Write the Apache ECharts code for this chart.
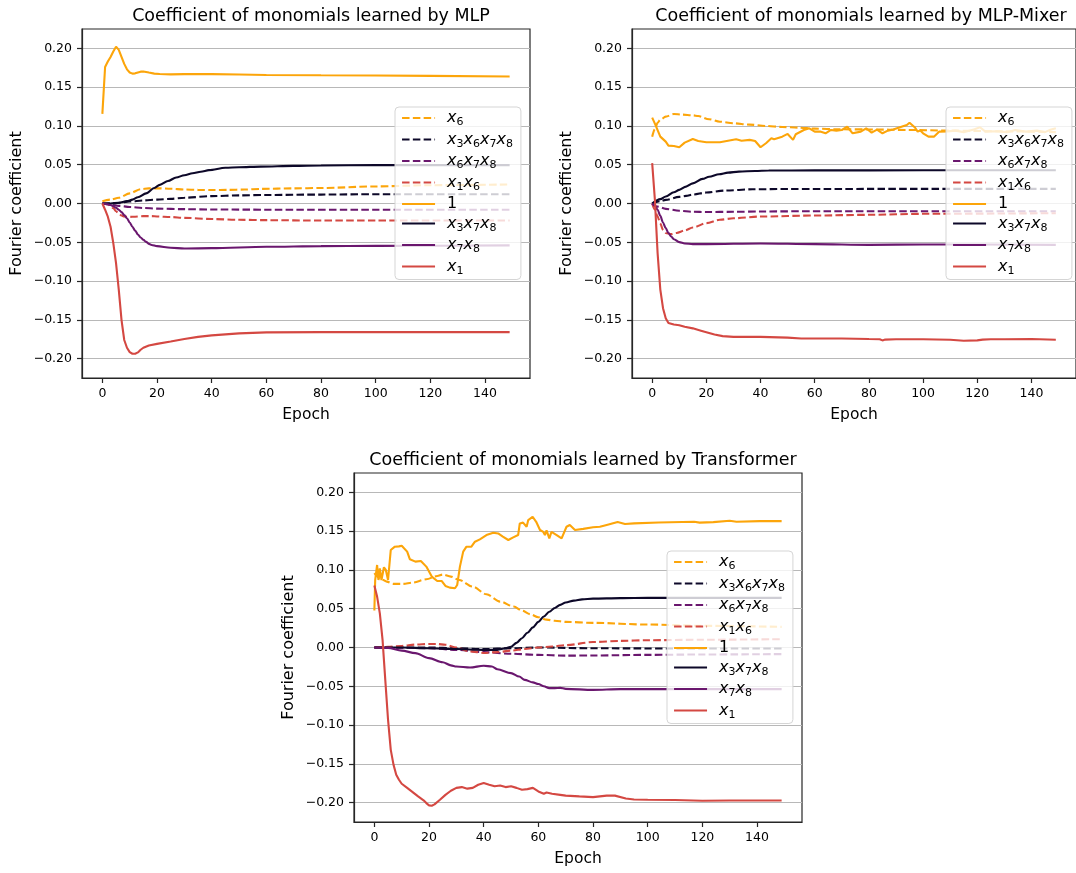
<!DOCTYPE html>
<html>
<head>
<meta charset="utf-8">
<script src="https://cdn.jsdelivr.net/npm/echarts@6/dist/echarts.min.js"></script>
<style>
html,body{margin:0;padding:0;background:#fff;}
#chart{width:1076px;height:873px;}
</style>
</head>
<body>
<div id="chart"></div>
<script>
// ---------- data ----------
const panelTitles = ['Coefficient of monomials learned by MLP','Coefficient of monomials learned by MLP-Mixer','Coefficient of monomials learned by Transformer'];
const seriesNames = ['x6','x3x6x7x8','x6x7x8','x1x6','1','x3x7x8','x7x8','x1'];
const xTicks = [0,20,40,60,80,100,120,140];
const yTicks = [-0.2,-0.15,-0.1,-0.05,0,0.05,0.1,0.15,0.2];

// MLP
const mlp_x6 = [[0,0.003],[3,0.005],[6,0.0075],[10,0.013],[14,0.0185],[17,0.0195],[21,0.0195],[25,0.019],[30,0.018],[35,0.0176],[40,0.0174],[46,0.0176],[52,0.018],[58,0.0188],[70,0.0195],[80,0.020],[100,0.022],[120,0.0236],[149,0.0245]];
const mlp_x3x6x7x8 = [[0,0],[5,0.0005],[10,0.0025],[15,0.004],[20,0.005],[25,0.006],[30,0.0075],[40,0.0095],[50,0.0105],[60,0.011],[80,0.0115],[100,0.012],[149,0.012]];
const mlp_x6x7x8 = [[0,0],[3,-0.0015],[6,-0.003],[10,-0.0045],[15,-0.0058],[20,-0.0066],[30,-0.0073],[40,-0.0077],[60,-0.008],[100,-0.008],[149,-0.008]];
const mlp_x1x6 = [[0,0],[2,-0.001],[3,-0.003],[4,-0.006],[5,-0.010],[6,-0.013],[7,-0.0155],[8,-0.0168],[10,-0.0172],[12,-0.017],[15,-0.0163],[18,-0.0163],[20,-0.0167],[25,-0.0175],[30,-0.0185],[40,-0.020],[50,-0.021],[60,-0.0215],[80,-0.022],[100,-0.022],[149,-0.022]];
const mlp_1 = [[0,0.1155],[1,0.176],[2,0.183],[3,0.189],[4,0.196],[5,0.2022],[6,0.198],[7,0.189],[8,0.180],[9,0.173],[10,0.169],[11,0.1675],[12,0.1678],[13,0.169],[14,0.170],[15,0.1702],[17,0.1688],[19,0.1675],[21,0.167],[25,0.1665],[30,0.1668],[40,0.1668],[50,0.1663],[60,0.1657],[80,0.1653],[100,0.165],[120,0.1645],[149,0.1638]];
const mlp_x3x7x8 = [[0,0],[3,0],[6,0.001],[9,0.003],[11,0.005],[13,0.008],[16,0.013],[19,0.020],[21,0.024],[24,0.029],[27,0.0335],[30,0.0365],[33,0.039],[36,0.041],[39,0.043],[45,0.046],[50,0.0468],[58,0.0476],[70,0.0485],[80,0.049],[100,0.0495],[149,0.0495]];
const mlp_x7x8 = [[0,0],[2,-0.001],[3,-0.002],[4,-0.0035],[5,-0.0056],[6,-0.008],[7,-0.011],[8,-0.015],[9,-0.019],[10,-0.0245],[11,-0.030],[12,-0.035],[13,-0.040],[14,-0.0438],[15,-0.0468],[16,-0.0495],[17,-0.052],[18,-0.0535],[20,-0.055],[25,-0.057],[30,-0.058],[40,-0.0576],[60,-0.0558],[80,-0.055],[100,-0.0546],[149,-0.054]];
const mlp_x1 = [[0,0],[1,-0.008],[2,-0.017],[3,-0.030],[4,-0.051],[5,-0.077],[6,-0.111],[7,-0.150],[8,-0.176],[9,-0.186],[10,-0.1916],[11,-0.1937],[12,-0.1937],[13,-0.192],[14,-0.1886],[15,-0.186],[17,-0.183],[20,-0.181],[25,-0.178],[30,-0.1748],[35,-0.172],[40,-0.170],[50,-0.1675],[60,-0.1662],[80,-0.1658],[100,-0.1658],[149,-0.1658]];

// MLP-Mixer
const mix_x6 = [[0,0.0862],[1,0.096],[2,0.104],[3,0.108],[5,0.112],[8,0.1154],[11,0.1146],[15,0.1137],[17,0.1128],[21,0.1086],[25,0.1055],[30,0.1034],[36,0.1017],[42,0.100],[48,0.0987],[54,0.0978],[60,0.0965],[69,0.0957],[80,0.0955],[95,0.0948],[110,0.094],[130,0.093],[149,0.092]];
const mix_x3x6x7x8 = [[0,0],[3,0.003],[5,0.0047],[10,0.0085],[12.5,0.0098],[15,0.0115],[20,0.0141],[27,0.0167],[37,0.0183],[50,0.0187],[80,0.0188],[149,0.0188]];
const mix_x6x7x8 = [[0,0],[2,-0.004],[5,-0.0069],[10,-0.0094],[15,-0.0107],[20,-0.011],[30,-0.0107],[40,-0.0103],[60,-0.0099],[100,-0.0099],[149,-0.0099]];
const mix_x1x6 = [[0,0],[1,-0.008],[2,-0.0168],[3,-0.026],[4,-0.034],[5,-0.038],[7,-0.0395],[9,-0.038],[12,-0.0348],[15,-0.031],[20,-0.0253],[25,-0.021],[30,-0.019],[40,-0.0168],[60,-0.0155],[80,-0.0146],[100,-0.0133],[149,-0.0125]];
const mix_1 = [[0,0.1107],[1,0.103],[3,0.0862],[5,0.0798],[6,0.0746],[8,0.0742],[10,0.0725],[12,0.0785],[15,0.0832],[17,0.0806],[20,0.079],[25,0.079],[28,0.081],[31,0.0828],[33,0.081],[36,0.082],[38,0.0806],[40,0.0725],[42,0.0777],[44,0.0841],[45,0.0828],[48,0.0862],[50,0.0897],[52,0.082],[53,0.0893],[56,0.0948],[58,0.097],[60,0.0927],[62,0.0927],[64,0.0905],[66,0.0948],[68,0.094],[70,0.0948],[72,0.099],[74,0.0905],[77,0.0927],[79,0.097],[81,0.0914],[83,0.0953],[85,0.0905],[87,0.094],[89,0.0953],[92,0.099],[94,0.1013],[95,0.1042],[97,0.098],[98,0.0927],[99,0.094],[100,0.0905],[102,0.0862],[104,0.0862],[106,0.0927],[109,0.093],[112,0.094],[115,0.092],[119,0.0957],[121,0.0983],[123,0.0927],[127,0.0932],[131,0.092],[134,0.0948],[138,0.0927],[142,0.094],[145,0.092],[147,0.095],[149,0.097]];
const mix_x3x7x8 = [[0,0],[3,0.0056],[5,0.009],[8,0.0145],[10,0.0176],[12.5,0.0218],[15,0.026],[18.6,0.0317],[21,0.0345],[24.7,0.0377],[28,0.0398],[32,0.0411],[38,0.042],[43,0.0425],[60,0.0427],[100,0.0428],[149,0.0428]];
const mix_x7x8 = [[0,0],[1,-0.003],[2,-0.008],[3,-0.016],[4,-0.0245],[5,-0.0318],[6,-0.038],[7,-0.0425],[8,-0.046],[10,-0.0498],[12,-0.0515],[15,-0.0524],[20,-0.0524],[40,-0.0515],[60,-0.0524],[80,-0.0533],[100,-0.0528],[149,-0.0533]];
const mix_x1 = [[0,0.052],[1,0.0047],[2,-0.064],[3,-0.111],[4,-0.135],[5,-0.148],[6,-0.154],[8,-0.156],[10,-0.157],[12,-0.159],[15,-0.161],[18,-0.164],[20,-0.166],[23,-0.169],[26,-0.171],[30,-0.172],[40,-0.172],[50,-0.173],[55,-0.174],[60,-0.174],[70,-0.174],[80,-0.1748],[84,-0.175],[85,-0.1765],[86,-0.1755],[90,-0.175],[100,-0.175],[110,-0.1757],[115,-0.177],[120,-0.1765],[122,-0.1755],[125,-0.175],[130,-0.175],[140,-0.1748],[149,-0.1757]];

// Transformer
const tr_x6 = [[0,0.0958],[2,0.0892],[4.5,0.085],[7,0.082],[10.5,0.082],[14,0.0837],[19,0.088],[23,0.0922],[25,0.094],[28,0.0914],[31,0.0871],[36,0.0785],[41,0.0686],[46,0.0592],[51,0.0528],[54,0.0476],[57,0.043],[60,0.039],[63,0.036],[66,0.0345],[70,0.033],[80,0.0318],[100,0.0296],[120,0.028],[149,0.0266]];
const tr_x3x6x7x8 = [[0,0],[20,0],[30,-0.001],[40,-0.002],[50,-0.001],[60,0],[80,-0.001],[100,-0.0012],[149,-0.0013]];
const tr_x6x7x8 = [[0,0],[10,-0.0003],[20,-0.001],[30,-0.003],[40,-0.006],[50,-0.008],[60,-0.0095],[70,-0.0105],[80,-0.0103],[100,-0.0095],[120,-0.009],[149,-0.0085]];
const tr_x1x6 = [[0,0],[5,0.0008],[10,0.002],[15,0.0038],[20,0.0045],[23,0.0045],[26,0.0035],[30,0],[35,-0.005],[40,-0.007],[45,-0.006],[50,-0.004],[55,-0.002],[60,0],[65,0.0013],[70,0.003],[80,0.007],[90,0.0085],[100,0.0094],[120,0.010],[149,0.0107]];
const tr_1 = [[0,0.0477],[0.3,0.087],[1,0.1064],[1.5,0.087],[2,0.102],[2.6,0.087],[3.5,0.1034],[4.2,0.100],[5,0.087],[6,0.1257],[7.5,0.130],[9,0.1304],[10,0.1313],[12,0.1236],[13,0.1137],[15,0.1107],[17,0.1116],[19,0.1043],[21,0.0914],[23,0.0858],[24.6,0.0858],[26,0.0794],[27.6,0.0772],[29.5,0.0764],[30.3,0.0806],[31.3,0.1043],[32.5,0.1236],[33.7,0.130],[35.5,0.130],[36.8,0.1364],[38.6,0.1394],[41,0.145],[43.5,0.148],[45.3,0.1471],[47,0.1429],[49,0.1386],[50.8,0.142],[52.6,0.145],[53.2,0.160],[54.4,0.161],[55.7,0.1557],[56.3,0.1643],[57.9,0.1686],[59.2,0.1621],[60.6,0.1515],[61.8,0.149],[62.4,0.145],[63,0.151],[64,0.1408],[64.8,0.149],[66.7,0.145],[68.5,0.1408],[70.3,0.1557],[71.5,0.158],[73.4,0.1515],[76.4,0.153],[80,0.155],[82.5,0.1557],[85,0.158],[89,0.1617],[91.7,0.1592],[95,0.160],[104,0.1612],[117,0.1622],[119,0.161],[124,0.1617],[130,0.1634],[132.5,0.1622],[141,0.163],[149,0.163]];
const tr_x3x7x8 = [[0,0],[10,0],[20,-0.001],[30,-0.002],[40,-0.003],[45,-0.003],[48,-0.001],[50,0.001],[52,0.006],[54,0.012],[56,0.019],[58,0.026],[60,0.033],[62,0.040],[64,0.046],[66,0.051],[68,0.055],[70,0.058],[73,0.0605],[76,0.062],[80,0.063],[90,0.0636],[100,0.064],[149,0.064]];
const tr_x7x8 = [[0,0],[5,-0.0005],[10,-0.004],[15,-0.0073],[20,-0.0137],[25,-0.019],[28,-0.023],[30,-0.0245],[35,-0.0258],[40,-0.0236],[43,-0.0245],[45,-0.028],[50,-0.033],[53,-0.0374],[55,-0.0417],[58,-0.045],[60,-0.047],[62,-0.050],[64,-0.0524],[66,-0.0524],[68,-0.052],[70,-0.0533],[80,-0.0546],[90,-0.0537],[100,-0.0537],[120,-0.0537],[149,-0.0537]];
const tr_x1 = [[0,0.080],[1,0.0657],[2,0.044],[3,0.0099],[4,-0.042],[5,-0.093],[6,-0.132],[7,-0.151],[8,-0.164],[9,-0.1705],[10,-0.1757],[12,-0.181],[14,-0.1864],[16,-0.192],[18,-0.197],[19,-0.2006],[20,-0.2036],[21,-0.204],[22,-0.2023],[24,-0.1963],[26,-0.190],[28,-0.1847],[30,-0.181],[32,-0.180],[34,-0.182],[36,-0.181],[38,-0.177],[40,-0.1748],[42,-0.177],[44,-0.179],[46,-0.178],[48,-0.180],[50,-0.179],[52,-0.181],[54,-0.1834],[56,-0.1826],[58,-0.181],[60,-0.1856],[62,-0.1886],[63,-0.187],[65,-0.1886],[68,-0.190],[70,-0.191],[75,-0.192],[80,-0.1929],[85,-0.191],[88,-0.191],[92,-0.1946],[95,-0.196],[100,-0.1963],[110,-0.1967],[120,-0.1976],[130,-0.1972],[149,-0.1972]];

// ---------- styling ----------
const C_ORANGE = '#fca50a', C_DARK = '#0d0829', C_PURPLE = '#6a176e', C_RED = '#d44842';
const styleOf = {
  'x6': [C_ORANGE, 'dashed'], 'x3x6x7x8': [C_DARK, 'dashed'], 'x6x7x8': [C_PURPLE, 'dashed'], 'x1x6': [C_RED, 'dashed'],
  '1': [C_ORANGE, 'solid'], 'x3x7x8': [C_DARK, 'solid'], 'x7x8': [C_PURPLE, 'solid'], 'x1': [C_RED, 'solid']
};
const panels = [
  {data: [mlp_x6, mlp_x3x6x7x8, mlp_x6x7x8, mlp_x1x6, mlp_1, mlp_x3x7x8, mlp_x7x8, mlp_x1], grid: {left: 82, top: 29}, legend: {left: 395, top: 107}},
  {data: [mix_x6, mix_x3x6x7x8, mix_x6x7x8, mix_x1x6, mix_1, mix_x3x7x8, mix_x7x8, mix_x1], grid: {left: 632, top: 29}, legend: {left: 946, top: 107}},
  {data: [tr_x6, tr_x3x6x7x8, tr_x6x7x8, tr_x1x6, tr_1, tr_x3x7x8, tr_x7x8, tr_x1], grid: {left: 354, top: 473}, legend: {left: 667, top: 551}}
];
const GW = 448, GH = 349;
const FONT = 'DejaVu Sans';
const noisy = {'1': true, 'x1': true};

const fmtY = v => {
  if (Math.abs(v) < 1e-9) return '0.00';
  return (v < 0 ? '\u2212' : '') + Math.abs(v).toFixed(2);
};
const fmtLegend = name => name === '1' ? '{n|1}' : name.replace(/x(\d)/g, '{x|x}{s|$1}');

const option = {
  animation: false,
  backgroundColor: '#ffffff',
  title: [], grid: [], xAxis: [], yAxis: [], legend: [], series: []
};

panels.forEach((p, i) => {
  option.title.push({
    text: panelTitles[i], left: p.grid.left + GW / 2, top: p.grid.top - 27, textAlign: 'center',
    textStyle: {fontFamily: FONT, fontSize: 17.5, fontWeight: 'normal', color: '#000'}
  });
  option.grid.push({left: p.grid.left, top: p.grid.top, width: GW, height: GH, show: true,
    borderColor: '#262626', borderWidth: 1.2, backgroundColor: 'transparent', containLabel: false});
  option.xAxis.push({
    type: 'value', gridIndex: i, min: -7.45, max: 156.45,
    name: 'Epoch', nameLocation: 'middle', nameGap: 29,
    nameTextStyle: {fontFamily: FONT, fontSize: 15.5, color: '#000'},
    axisLine: {show: true, onZero: false, lineStyle: {color: '#262626', width: 1.2}},
    axisTick: {show: true, length: 5, customValues: xTicks, lineStyle: {color: '#262626', width: 1.2}},
    axisLabel: {customValues: xTicks, margin: 9, fontFamily: FONT, fontSize: 12.5, color: '#000'},
    splitLine: {show: false}
  });
  option.yAxis.push({
    type: 'value', gridIndex: i, min: -0.225, max: 0.225,
    name: 'Fourier coefficient', nameLocation: 'middle', nameGap: 57,
    nameTextStyle: {fontFamily: FONT, fontSize: 16, color: '#000'},
    axisLine: {show: true, onZero: false, lineStyle: {color: '#262626', width: 1.2}},
    axisTick: {show: true, length: 5, customValues: yTicks, lineStyle: {color: '#262626', width: 1.2}},
    axisLabel: {customValues: yTicks, margin: 10, fontFamily: FONT, fontSize: 12.5, color: '#000', formatter: fmtY},
    splitLine: {show: true, lineStyle: {color: '#b8b8b8', width: 1.2}}
  });
  seriesNames.forEach((nm, k) => {
    const st = styleOf[nm];
    option.series.push({
      type: 'line', name: nm, xAxisIndex: i, yAxisIndex: i, data: p.data[k],
      symbol: 'none', showSymbol: false,
      smooth: noisy[nm] ? false : 0.3, smoothMonotone: 'x',
      lineStyle: {color: st[0], width: 2.1, type: st[1] === 'dashed' ? [7.5, 3.3] : 'solid'},
      itemStyle: {color: st[0]},
      emphasis: {disabled: true}, z: 2
    });
  });
  option.legend.push({
    orient: 'vertical', left: p.legend.left, top: p.legend.top,
    itemWidth: 33, itemHeight: 14, itemGap: 3.5,
    backgroundColor: 'rgba(255,255,255,0.8)', borderColor: '#d5d5d5', borderWidth: 1, borderRadius: 4,
    padding: [3, 8, 3, 6], selectedMode: false, z: 10,
    itemStyle: {opacity: 0},
    lineStyle: {width: 2.1},
    data: seriesNames.slice(),
    formatter: fmtLegend,
    textStyle: {
      fontFamily: FONT, fontSize: 16, color: '#000', padding: [0, 0, 0, 7],
      rich: {
        x: {fontFamily: FONT, fontStyle: 'italic', fontSize: 16, lineHeight: 20, verticalAlign: 'middle', color: '#000'},
        s: {fontFamily: FONT, fontSize: 11, lineHeight: 12, verticalAlign: 'bottom', color: '#000'},
        n: {fontFamily: FONT, fontSize: 16, lineHeight: 20, verticalAlign: 'middle', color: '#000'}
      }
    }
  });
});

const chart = echarts.init(document.getElementById('chart'), null, {renderer: 'canvas'});
chart.setOption(option);
</script>
</body>
</html>
